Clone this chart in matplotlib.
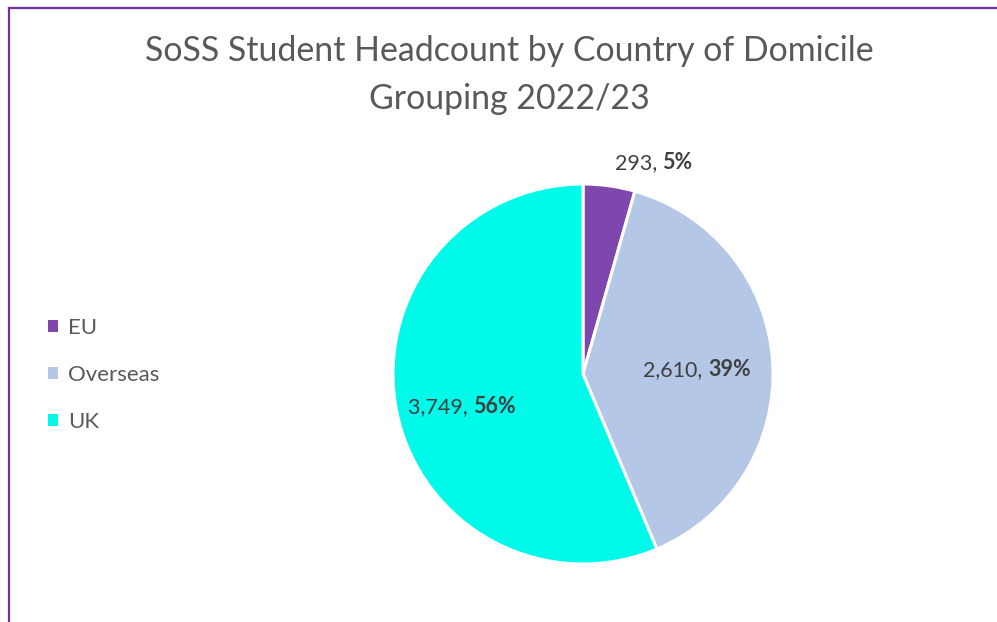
import matplotlib
matplotlib.use("Agg")
import matplotlib.pyplot as plt
from matplotlib.lines import Line2D
from matplotlib.patches import Patch
from matplotlib.offsetbox import TextArea, HPacker, AnnotationBbox
import numpy as np

plt.rcParams["font.family"] = ["Lato", "DejaVu Sans"]

categories = ["EU", "Overseas", "UK"]
headcount = [293, 2610, 3749]
pct_labels = ["5%", "39%", "56%"]
colors = ["#7F47AE", "#B4C7E7", "#00FAE9"]
# label anchor distance from centre (fraction of radius)
label_dist = [1.175, 0.60, 0.66]
label_angle_shift = [-10.5, -1.5, 3.5]

W, H = 997, 622
fig = plt.figure(figsize=(W / 100, H / 100), dpi=100)

# pie axes: centre (583, 374) px from top-left, radius 190 px
cx, cy, r = 583, 374, 190
ax = fig.add_axes([(cx - r) / W, (H - cy - r) / H, 2 * r / W, 2 * r / H])
wedges, _ = ax.pie(headcount, colors=colors, startangle=90, counterclock=False,
                   wedgeprops=dict(edgecolor="white", linewidth=2.2))
ax.set_xlim(-1, 1)
ax.set_ylim(-1, 1)
ax.set_aspect("equal")
ax.axis("off")

for w, n, pct, d, sh in zip(wedges, headcount, pct_labels, label_dist, label_angle_shift):
    ang = np.deg2rad((w.theta1 + w.theta2) / 2 + sh)
    pos = (d * np.cos(ang), d * np.sin(ang))
    t1 = TextArea(f"{n:,}, ", textprops=dict(fontsize=15.5, color="#404040"))
    t2 = TextArea(pct, textprops=dict(fontsize=15.5, color="#404040", fontweight="bold"))
    box = HPacker(children=[t1, t2], pad=0, sep=0, align="baseline")
    ab = AnnotationBbox(box, pos, xycoords="data", frameon=False,
                        box_alignment=(0.5, 0.5), annotation_clip=False)
    ax.add_artist(ab)

fig.text(509 / W, 1 - 75 / H, "SoSS Student Headcount by Country of Domicile\nGrouping 2022/23",
         ha="center", va="center", fontsize=24.4, color="#595959", linespacing=1.6)

handles = [Patch(facecolor=c, edgecolor="none") for c in colors]
fig.legend(handles, categories, loc="center left", bbox_to_anchor=(37 / W, 1 - 375 / H),
           frameon=False, fontsize=16, labelcolor="#595959", handlelength=0.45,
           handleheight=0.45, handletextpad=0.45, labelspacing=1.2, borderpad=0)

# purple frame lines (left and top only visible)
fig.add_artist(Line2D([8.5 / W, 8.5 / W], [0, 1 - 7.5 / H], transform=fig.transFigure,
                      color="#7030A0", linewidth=1.6))
fig.add_artist(Line2D([8.5 / W, 1], [1 - 7.5 / H, 1 - 7.5 / H], transform=fig.transFigure,
                      color="#7030A0", linewidth=1.6))

fig.savefig("out.png", dpi=100, facecolor="white")
